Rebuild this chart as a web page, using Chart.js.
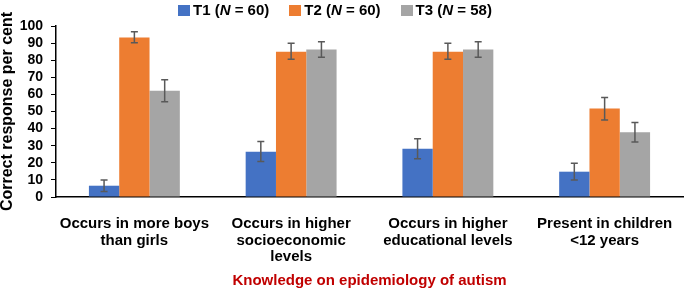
<!DOCTYPE html>
<html>
<head>
<meta charset="utf-8">
<script src="https://cdn.jsdelivr.net/npm/chart.js@4"></script>
<style>
  body { margin: 0; background: #fff; }
  #wrap { position: relative; width: 685px; height: 292px; }
  #legend { position: absolute; top: 0; left: 178px; height: 20px; display: flex;
    font: bold 15px "Liberation Sans", Arial, sans-serif; color: #000; line-height: 20px; }
  #legend span.item { display: flex; align-items: center; margin-right: 20px; }
  #legend span.box { width: 12px; height: 11px; margin-right: 3px; }
</style>
</head>
<body>
<div id="wrap">
  <div id="legend"></div>
  <canvas id="kennisChart" width="685" height="292"></canvas>
</div>
<script>
const categories = [
  ['Occurs in more boys', 'than girls'],
  ['Occurs in higher', 'socioeconomic', 'levels'],
  ['Occurs in higher', 'educational levels'],
  ['Present in children', '<12 years']
];
const seriesNames = ['T1', 'T2', 'T3'];
const seriesN = [60, 60, 58];
const seriesColors = ['#4472C4', '#ED7D31', '#A5A5A5'];

const t1 = [6.6, 26.5, 28.2, 14.8];
const t2 = [93.3, 85, 85, 51.7];
const t3 = [62.1, 86.3, 86.3, 37.8];

const t1Low = [3.2, 20.7, 22.3, 9.9];
const t1High = [10, 32.4, 34.1, 19.7];
const t2Low = [90.2, 80.5, 80.5, 45];
const t2High = [96.7, 89.9, 89.9, 58.2];
const t3Low = [55.7, 81.7, 81.7, 32.2];
const t3High = [68.6, 90.8, 90.8, 43.5];

const yTicks = [0, 10, 20, 30, 40, 50, 60, 70, 80, 90, 100];

const values = [t1, t2, t3];
const lows = [t1Low, t2Low, t3Low];
const highs = [t1High, t2High, t3High];

// legend as html so the italic N stays real text
const legend = document.getElementById('legend');
seriesNames.forEach((name, i) => {
  const item = document.createElement('span');
  item.className = 'item';
  item.innerHTML = '<span class="box" style="background:' + seriesColors[i] + '"></span>' +
    name + '&nbsp;(<i>N</i>&nbsp;=&nbsp;' + seriesN[i] + ')';
  legend.appendChild(item);
});

const errorBars = {
  id: 'errorBars',
  afterDatasetsDraw(chart) {
    const ctx = chart.ctx;
    const y = chart.scales.y;
    ctx.save();
    ctx.strokeStyle = '#595959';
    ctx.lineWidth = 1.5;
    chart.data.datasets.forEach((ds, di) => {
      chart.getDatasetMeta(di).data.forEach((bar, i) => {
        const yl = y.getPixelForValue(lows[di][i]);
        const yh = y.getPixelForValue(highs[di][i]);
        ctx.beginPath();
        ctx.moveTo(bar.x, yl); ctx.lineTo(bar.x, yh);
        ctx.moveTo(bar.x - 3.5, yl); ctx.lineTo(bar.x + 3.5, yl);
        ctx.moveTo(bar.x - 3.5, yh); ctx.lineTo(bar.x + 3.5, yh);
        ctx.stroke();
      });
    });
    ctx.restore();
  }
};

const font = '"Liberation Sans", Arial, sans-serif';

new Chart(document.getElementById('kennisChart'), {
  type: 'bar',
  data: {
    labels: categories,
    datasets: seriesNames.map((name, i) => ({
      label: name,
      data: values[i],
      backgroundColor: seriesColors[i],
      categoryPercentage: 0.58,
      barPercentage: 1
    }))
  },
  plugins: [errorBars],
  options: {
    responsive: false,
    animation: false,
    layout: { padding: { top: 26, right: 2, left: 0, bottom: 0 } },
    plugins: {
      legend: { display: false },
      tooltip: { enabled: false }
    },
    scales: {
      x: {
        grid: { display: false },
        border: { color: '#000', width: 1.5 },
        ticks: {
          color: '#000', padding: 11, maxRotation: 0, autoSkip: false,
          font: { family: font, size: 15, weight: 'bold', lineHeight: 1.1 }
        },
        title: {
          display: true, text: 'Knowledge on epidemiology of autism', color: '#C00000',
          padding: { top: 0, bottom: 2 },
          font: { family: font, size: 15, weight: 'bold' }
        },
        afterFit: s => { s.height = 95; }
      },
      y: {
        min: 0, max: 100,
        afterBuildTicks: s => { s.ticks = yTicks.map(v => ({ value: v })); },
        grid: { drawOnChartArea: false, tickLength: 5, color: '#000' },
        border: { color: '#000', width: 1.5 },
        ticks: {
          color: '#000', padding: 8, autoSkip: false, stepSize: 10,
          font: { family: font, size: 14, weight: 'bold' }
        },
        title: {
          display: true, text: 'Correct response per cent', color: '#000',
          padding: 0,
          font: { family: font, size: 16, weight: 'bold', lineHeight: 1 }
        },
        afterFit: s => { s.width = 56; }
      }
    }
  }
});
</script>
</body>
</html>
